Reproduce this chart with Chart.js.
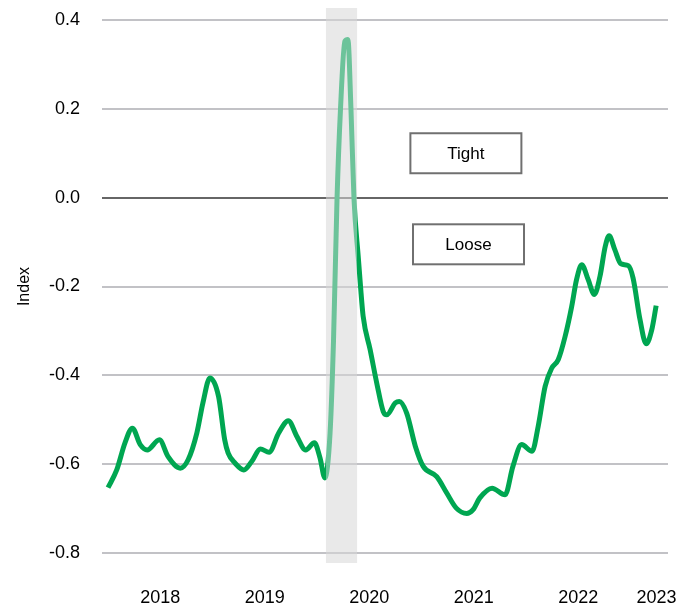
<!DOCTYPE html>
<html>
<head>
<meta charset="utf-8">
<script src="https://cdn.jsdelivr.net/npm/chart.js@4.4.1/dist/chart.umd.min.js"></script>
<style>
  html, body { margin: 0; padding: 0; background: #fff; }
  #wrap { width: 690px; height: 608px; }
</style>
</head>
<body>
<div id="wrap"><canvas id="indexChart" width="690" height="608"></canvas></div>
<script>
// months since Jan 2018
const months = [0, 1.0, 1.95, 2.8, 3.7, 4.5, 5.9, 6.9, 8.3, 9.2,
  10.2, 10.9, 11.7, 12.7, 13.4, 13.8, 14.6, 15.6, 16.5, 17.5,
  18.5, 19.6, 20.7, 21.7, 22.7, 23.7, 24.35, 24.9, 25.5, 25.9,
  26.3, 26.7, 27.2, 27.55, 27.9, 28.25, 28.75, 29.0, 29.3, 30.1,
  30.9, 31.6, 32.0, 33.0, 33.45, 34.3, 35.3, 36.2, 37.75, 38.9,
  40.0, 41.2, 41.9, 42.7, 44.1, 45.6, 46.5, 47.5, 48.7, 49.4,
  50.2, 50.95, 51.7, 52.5, 53.25, 53.8, 54.4, 55.15, 55.85, 56.5,
  57.1, 57.55, 58.2, 58.9, 59.75, 60.3, 61.1, 61.8, 62.45, 62.95];

const indexValues = [-0.653, -0.613, -0.552, -0.519, -0.556, -0.568, -0.545, -0.583, -0.609, -0.590,
  -0.530, -0.462, -0.406, -0.448, -0.545, -0.575, -0.598, -0.613, -0.594, -0.566,
  -0.573, -0.530, -0.502, -0.538, -0.568, -0.552, -0.586, -0.631, -0.530, -0.320,
  -0.003, 0.200, 0.352, 0.356, 0.200, -0.003, -0.136, -0.200, -0.267, -0.342,
  -0.421, -0.481, -0.489, -0.462, -0.459, -0.485, -0.560, -0.605, -0.628, -0.665,
  -0.699, -0.711, -0.703, -0.676, -0.654, -0.669, -0.605, -0.556, -0.571, -0.515,
  -0.425, -0.384, -0.365, -0.312, -0.245, -0.185, -0.151, -0.185, -0.218, -0.177,
  -0.110, -0.086, -0.117, -0.149, -0.153, -0.181, -0.275, -0.329, -0.297, -0.243];

// x axis labels and where they sit (months)
const yearLabels = ["2018", "2019", "2020", "2021", "2022", "2023"];
const yearTicks = [6, 18, 30, 42, 54, 63];

// shaded period (months)
const shadeStart = 25.03;
const shadeEnd = 28.6;

// Tight / Loose boxes
const boxLabels = ["Tight", "Loose"];
const boxMonths = [41.1, 41.4];
const boxValues = [0.10, -0.105];

const darkGreen = "#00a651";
const lightGreen = "#6cc39a";

document.addEventListener("DOMContentLoaded", function () {
  Chart.defaults.font.family = "'Liberation Sans', Arial, sans-serif";
  Chart.defaults.color = "#000";

  // grey band behind the line
  const shadePlugin = {
    id: "shade",
    beforeDatasetsDraw(chart) {
      const x = chart.scales.x;
      const area = chart.chartArea;
      const ctx = chart.ctx;
      const x0 = x.getPixelForValue(shadeStart);
      const x1 = x.getPixelForValue(shadeEnd);
      ctx.save();
      ctx.fillStyle = "rgba(215, 215, 215, 0.55)";
      ctx.fillRect(x0, area.top - 12, x1 - x0, area.bottom - area.top + 22);
      ctx.restore();
    }
  };

  // labelled boxes
  const boxPlugin = {
    id: "boxes",
    afterDatasetsDraw(chart) {
      const ctx = chart.ctx;
      ctx.save();
      ctx.font = "17px 'Liberation Sans', Arial, sans-serif";
      ctx.textAlign = "center";
      ctx.textBaseline = "middle";
      boxLabels.forEach((label, i) => {
        const cx = chart.scales.x.getPixelForValue(boxMonths[i]);
        const cy = chart.scales.y.getPixelForValue(boxValues[i]);
        const w = 111, h = 40;
        ctx.fillStyle = "#fff";
        ctx.fillRect(cx - w / 2, cy - h / 2, w, h);
        ctx.strokeStyle = "#707070";
        ctx.lineWidth = 2;
        ctx.strokeRect(cx - w / 2, cy - h / 2, w, h);
        ctx.fillStyle = "#000";
        ctx.fillText(label, cx, cy + 1);
      });
      ctx.restore();
    }
  };

  // line is lighter inside the shaded period
  function lineColor(context) {
    const chart = context.chart;
    if (!chart.chartArea || !chart.scales.x) return darkGreen;
    const w = chart.width;
    const x0 = chart.scales.x.getPixelForValue(shadeStart) / w;
    const x1 = chart.scales.x.getPixelForValue(shadeEnd) / w;
    const g = chart.ctx.createLinearGradient(0, 0, w, 0);
    g.addColorStop(0, darkGreen);
    g.addColorStop(x0, darkGreen);
    g.addColorStop(x0, lightGreen);
    g.addColorStop(x1, lightGreen);
    g.addColorStop(x1, darkGreen);
    g.addColorStop(1, darkGreen);
    return g;
  }

  const points = months.map((m, i) => ({ x: m, y: indexValues[i] }));

  new Chart(document.getElementById("indexChart").getContext("2d"), {
    type: "line",
    data: {
      datasets: [{
        data: points,
        borderColor: lineColor,
        borderWidth: 5,
        pointRadius: 0,
        fill: false,
        cubicInterpolationMode: "monotone"
      }]
    },
    options: {
      responsive: false,
      animation: false,
      layout: { padding: { left: 0, right: 22, top: 20, bottom: 0 } },
      plugins: { legend: { display: false }, tooltip: { enabled: false } },
      scales: {
        x: {
          type: "linear",
          min: -0.69,
          max: 64.31,
          grid: { display: false, drawTicks: false },
          border: { display: false },
          afterBuildTicks: axis => {
            axis.ticks = yearTicks.map(v => ({ value: v }));
          },
          afterFit: axis => {
            axis.height = 55;
            axis.paddingLeft = 0;
            axis.paddingRight = 0;
          },
          ticks: {
            autoSkip: false,
            maxRotation: 0,
            padding: 34,
            font: { size: 18 },
            callback: (val, i) => yearLabels[i]
          }
        },
        y: {
          min: -0.8,
          max: 0.4,
          afterFit: axis => {
            axis.width = 102;
            axis.paddingTop = 0;
            axis.paddingBottom = 0;
          },
          border: { display: false },
          grid: {
            drawTicks: false,
            lineWidth: 2,
            color: c => Math.abs(c.tick.value) < 1e-9 ? "#666666" : "#c2c2c6"
          },
          ticks: {
            stepSize: 0.2,
            padding: 22,
            font: { size: 18 },
            callback: v => Math.abs(v) < 1e-9 ? "0.0" : v.toFixed(1)
          },
          title: {
            display: true,
            text: "Index",
            font: { size: 16 },
            padding: { top: 15, bottom: 0 }
          }
        }
      }
    },
    plugins: [shadePlugin, boxPlugin]
  });
});
</script>
</body>
</html>
